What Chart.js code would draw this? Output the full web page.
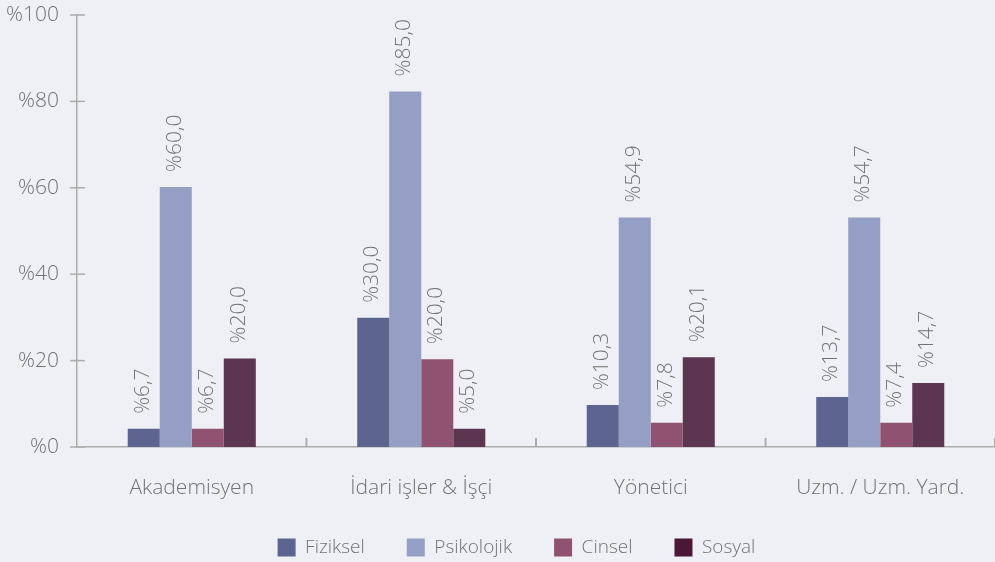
<!DOCTYPE html>
<html>
<head>
<meta charset="utf-8">
<script src="https://cdn.jsdelivr.net/npm/chart.js@4"></script>
<style>
  html, body { margin: 0; padding: 0; background: #eff0f5; }
  #wrap { width: 995px; height: 562px; }
</style>
</head>
<body>
<div id="wrap"><canvas id="chart" width="995" height="562"></canvas></div>
<script>
  // ── Data ────────────────────────────────────────────────────────────────
  const categories = ['Akademisyen', 'İdari işler & İşçi', 'Yönetici', 'Uzm. / Uzm. Yard.'];
  const seriesNames = ['Fiziksel', 'Psikolojik', 'Cinsel', 'Sosyal'];

  // bar heights as drawn in the picture
  const fiziksel   = [4.2, 29.9, 9.7, 11.6];
  const psikolojik = [60.2, 82.3, 53.1, 53.1];
  const cinsel     = [4.2, 20.3, 5.6, 5.6];
  const sosyal     = [20.5, 4.2, 20.8, 14.8];

  // value labels as printed above the bars
  const fizikselLabels   = ['%6,7', '%30,0', '%10,3', '%13,7'];
  const psikolojikLabels = ['%60,0', '%85,0', '%54,9', '%54,7'];
  const cinselLabels     = ['%6,7', '%20,0', '%7,8', '%7,4'];
  const sosyalLabels     = ['%20,0', '%5,0', '%20,1', '%14,7'];

  const yTicks = [0, 20, 40, 60, 80, 100];

  // ── Styles ──────────────────────────────────────────────────────────────
  const BAR_COLORS    = ['#5c648f', '#959ec4', '#8f5270', '#5c3650'];
  const LEGEND_COLORS = ['#5c648f', '#959ec4', '#8f5270', '#4b1736'];
  const AXIS_CLR = '#acacac';
  const TEXT_CLR = '#727272';
  const FONT = "'Open Sans', sans-serif";

  const seriesData = [fiziksel, psikolojik, cinsel, sosyal];
  const seriesLabels = [fizikselLabels, psikolojikLabels, cinselLabels, sosyalLabels];

  const LEGEND_SHRINK = 16;
  const LEGEND_SHIFT_X = 19;

  // rotated value labels + axis tick marks
  const decorPlugin = {
    id: 'decor',
    beforeLayout(chart) {
      // legend reserves a bit less room than its padding implies
      const lg = chart.legend;
      if (lg && !lg._shrunk) {
        const fit = lg.fit.bind(lg);
        lg.fit = function() { fit(); this.height -= LEGEND_SHRINK; };
        lg._shrunk = true;
      }
    },
    afterLayout(chart) {
      const lg = chart.legend;
      if (lg) {
        lg.top += 5 - LEGEND_SHRINK;
        lg.height += LEGEND_SHRINK;
        lg.bottom = lg.top + lg.height;
        lg.left += LEGEND_SHIFT_X;
        lg.right += LEGEND_SHIFT_X;
      }
    },
    afterDatasetsDraw(chart) {
      const ctx = chart.ctx;
      const x = chart.scales.x, y = chart.scales.y;
      ctx.save();
      // y ticks crossing the axis
      ctx.strokeStyle = AXIS_CLR;
      ctx.lineWidth = 1.5;
      yTicks.forEach(v => {
        const py = y.getPixelForValue(v);
        ctx.beginPath();
        ctx.moveTo(x.left - 7, py);
        ctx.lineTo(x.left + 8, py);
        ctx.stroke();
      });
      // x category separators, pointing up
      ctx.lineWidth = 2;
      for (let i = 1; i <= categories.length; i++) {
        const px = (x.getPixelForValue(i - 1) + x.getPixelForValue(i)) / 2;
        ctx.beginPath();
        ctx.moveTo(px, y.bottom);
        ctx.lineTo(px, y.bottom - 9);
        ctx.stroke();
      }
      // value labels
      ctx.fillStyle = TEXT_CLR;
      ctx.font = '300 21px ' + FONT;
      ctx.textAlign = 'left';
      ctx.textBaseline = 'middle';
      chart.data.datasets.forEach((ds, di) => {
        const meta = chart.getDatasetMeta(di);
        meta.data.forEach((bar, i) => {
          ctx.save();
          ctx.translate(bar.x - 1, bar.y - 15);
          ctx.rotate(-Math.PI / 2);
          ctx.fillText(seriesLabels[di][i], 0, 0);
          ctx.restore();
        });
      });
      ctx.restore();
    }
  };

  new Chart(document.getElementById('chart'), {
    type: 'bar',
    data: {
      labels: categories,
      datasets: seriesNames.map((name, i) => ({
        label: name,
        data: seriesData[i],
        backgroundColor: BAR_COLORS[i],
        borderWidth: 0,
        categoryPercentage: 0.558,
        barPercentage: 1.0
      }))
    },
    options: {
      responsive: false,
      animation: false,
      layout: { padding: { top: 15, right: 0, left: 0, bottom: 0 } },
      scales: {
        x: {
          grid: { display: false },
          border: { display: true, color: AXIS_CLR, width: 1.5 },
          ticks: { color: TEXT_CLR, font: { family: FONT, size: 21, weight: '300' }, padding: 20 },
          afterFit: s => { s.height = 60; s.paddingLeft = 0; s.paddingRight = 0; }
        },
        y: {
          min: 0, max: 100,
          afterBuildTicks: s => { s.ticks = yTicks.map(v => ({ value: v })); },
          grid: { display: false },
          border: { display: true, color: AXIS_CLR, width: 1.5 },
          ticks: {
            color: TEXT_CLR,
            font: { family: FONT, size: 21, weight: '300' },
            padding: 10,
            callback: v => '%' + v
          },
          afterFit: s => { s.width = 77; s.paddingTop = 0; s.paddingBottom = 0; }
        }
      },
      plugins: {
        legend: {
          position: 'bottom',
          labels: {
            color: TEXT_CLR,
            font: { family: FONT, size: 19, weight: '300' },
            boxWidth: 18,
            boxHeight: 18,
            padding: 42,
            generateLabels: chart => seriesNames.map((name, i) => ({
              text: name,
              fillStyle: LEGEND_COLORS[i],
              strokeStyle: LEGEND_COLORS[i],
              lineWidth: 0,
              fontColor: TEXT_CLR,
              datasetIndex: i
            }))
          }
        },
        tooltip: { enabled: false }
      }
    },
    plugins: [decorPlugin]
  });
</script>
</body>
</html>
